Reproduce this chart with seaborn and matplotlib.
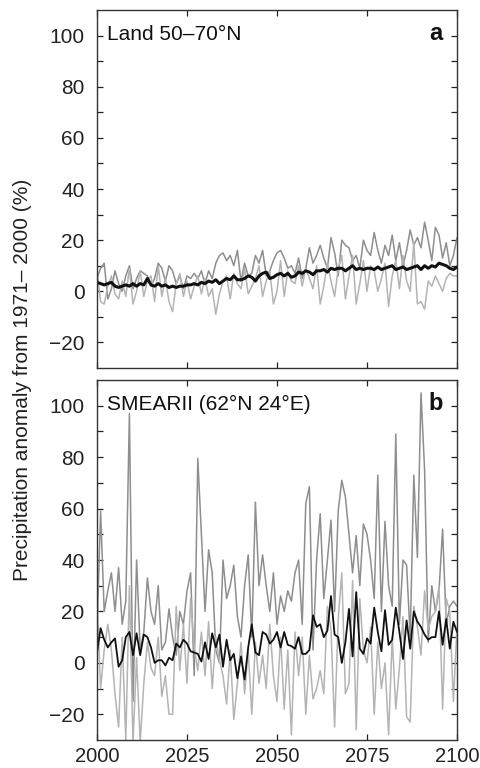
import numpy as np
import pandas as pd
import matplotlib
matplotlib.use("Agg")
import matplotlib.pyplot as plt
import seaborn as sns

years = list(range(2000, 2101))

# Panel a: Land 50-70N
a_mean = [3.5, 3, 2.5, 3, 3.5, 2, 1.5, 2, 2.5, 2,
          3, 2, 3, 2.5, 5, 2.5, 2, 3, 2, 2.5,
          1.5, 2, 1.5, 2, 2, 2.5, 2.5, 3, 2.5, 3.5,
          3, 4, 3.5, 4.5, 3, 4, 5, 4.5, 6, 4.5,
          4.5, 5, 6, 5.5, 4, 6, 7, 7.5, 5, 5.5,
          6.5, 7, 6, 7, 5.5, 6, 7.5, 7, 8, 7.5,
          6.5, 8, 8, 8.5, 7.5, 9, 8.5, 9, 9, 8,
          9, 10, 8.5, 9, 8.5, 9, 9, 8.5, 9.5, 8.5,
          9, 9.5, 10, 8.5, 9, 9.5, 8.5, 9, 9.5, 10,
          8.5, 10, 9, 10, 9.5, 11, 10.5, 10, 9, 8.5,
          9.5]
a_high = [5, 9, 11, -3, 1, 8, 3, 0, 6, 10,
          1, 5, 8, 7, 6, 2, 5, 11, 9, 4,
          10, 8, 3, 6, 1, 6, 5, 7, 5, 8,
          3, 8, 5, 11, 14, 15, 12, 14, 10, 16,
          4, 11, 6, 7, 14, 11, 16, 6, 8, 12,
          15, 16, 13, 9, 10, 7, 13, 5, 9, 17,
          11, 14, 18, 13, 9, 21, 15, 6, 20, 18,
          17, 12, 14, 9, 20, 16, 14, 23, 16, 11,
          18, 14, 22, 12, 19, 10, 16, 24, 18, 21,
          17, 27, 20, 12, 25, 22, 13, 19, 10, 14,
          21]
a_low = [8, -4, -5, 2, 6, -1, -3, 4, -2, 9,
         -5, 0, 8, -2, 4, 6, -4, 10, -2, 5,
         -4, -8, 3, 7, -2, 4, -3, 2, 6, -1,
         5, -2, 1, -9, -1, 4, 6, -3, 7, 3,
         1, 9, -1, 2, 5, 10, -2, 4, 8, -5,
         0, 12, -2, 8, 4, 3, 10, 2, 9, 5,
         1, 10, -5, 2, 11, 4, -2, 9, 14, -3,
         6, 14, -5, 3, 12, 0, 10, 8, 0, 5,
         11, -6, 6, 12, 1, 14, 4, 0, 19, -5,
         -4, -7, 4, 2, 6, 3, 0, 5, 7, 6,
         6]

# Panel b: SMEARII (62N 24E)
b_mean = [4, 13.5, 9, 6, 8, 9.5, -1.5, 1, 10, 12,
          3, 11.5, 3, 11, 10, 6, 0, 1, 1, -1,
          2, 1, 7.5, 6, 9, 7.5, 4.5, 4, 3.5, 0.5,
          8, 1.5, 11.5, 6, 11, -1.5, 9, 1, 3.5, -6,
          2.5, -6.5, 6, 15, 4, 3, 12, 11, 7.5, 9,
          12, 6, 12, 7, 6.5, 5.5, 10, 3.5, 3.5, 5,
          18.5, 14, 15, 10, 12.5, 26, 11, 10, 0, 8,
          21, 2.5, 27.5, 5.5, 3.5, 9.5, 7.5, 21.5, 12, 4.5,
          20.5, 7, 9, 21.5, 12, 1.5, 16.5, 5.5, 20, 16,
          14, 11, 9, 10, 10, 20, 7, 17, 5.5, 16,
          12]
b_high = [12, 59, 20, 28, 35, 20, 37, 15, 24, 97,
          -15, 40, 5, 12, 33, 20, 15, 30, 5, 8,
          21, 10, 3, 20, 15, 28, 35, -5, 79.5, 50,
          20, 44, 35, 5, 0, 40, 25, 30, 38, 18,
          10, 30, 42, 10, 62.5, 30, 42, 30, 20, 35,
          15, 26, 20, 28, 24, 35, 40, 15, 62, 68.5,
          5, 40, 58, 25, 40, 55.5, 20, 59, 71, 64.5,
          50, 35, 49.5, 30, 54, 50, 40, 25, 73, 20,
          55, 30, 22, 89, 15, 40, 38, 10, 73, 41,
          105, 75, 8, 30, 20, 28, 52, 15, 22, 24,
          22]
b_low = [25, -10, 5, 15, 5, -12, -25, 10, -30, 30,
         -31, 2, -31, -8, 8, -2, -5, 10, -13, -5,
         -20, -20, 22, -3, 15, -8, 25, 6, -3, 12,
         -5, 16, -10, 10, 1, -5, -16, 5, -22, -8,
         8, -12, 5, -20, 8, -8, 3, -10, 15, -5,
         -15, 10, -18, 5, -28, 12, -5, 10, -20, 3,
         -14, -10, -3, -12, 22, 13, -25, 17, 35, -12,
         -8, 32, -26, 25, 5, 0, 14, -20, 8, -10,
         0, -28, 10, -18, -2, 18, -21, -23, 22, 14,
         3, 28, 13, 18, 20, 30, -18, 25, 20, -15,
         14]

yticks = list(range(-20, 101, 10))
ylabels = [str(t).replace("-", "\u2212") if t % 20 == 0 else "" for t in yticks]
xticks = [2000, 2025, 2050, 2075, 2100]

sns.set_style("ticks")
plt.rcParams["font.family"] = ["Liberation Sans", "DejaVu Sans"]

fig = plt.figure(figsize=(4.81, 7.68), dpi=100)
ax_a = fig.add_axes([97 / 481, 1 - 368 / 768, 360 / 481, 358 / 768])
ax_b = fig.add_axes([97 / 481, 1 - 740 / 768, 360 / 481, 360 / 768])

panels = [
    (ax_a, a_high, a_low, a_mean, "Land 50\u201370\u00b0N", "a", 2.2),
    (ax_b, b_high, b_low, b_mean, "SMEARII (62\u00b0N 24\u00b0E)", "b", 1.3),
]

for ax, hi, lo, mid, title, letter, lw in panels:
    df = pd.DataFrame({"year": years, "hi": hi, "lo": lo, "mid": mid})
    sns.lineplot(data=df, x="year", y="hi", ax=ax, color="#8e8e8e", lw=1.1)
    sns.lineplot(data=df, x="year", y="lo", ax=ax, color="#b4b4b4", lw=1.1)
    sns.lineplot(data=df, x="year", y="mid", ax=ax, color="#111111", lw=lw)
    ax.set_xlim(2000, 2100)
    ax.set_ylim(-30, 110)
    ax.set_yticks(yticks)
    ax.set_yticklabels(ylabels)
    ax.set_xticks(xticks)
    ax.set_xlabel("")
    ax.set_ylabel("")
    ax.tick_params(direction="in", length=4, width=0.9, top=True, right=True,
                   labelsize=15, colors="#222222")
    ax.tick_params(axis="y", pad=9)
    ax.tick_params(axis="x", pad=5, labelsize=14.5)
    for s in ax.spines.values():
        s.set_visible(True)
        s.set_linewidth(1.0)
        s.set_color("#333333")
    ax.text(0.028, 0.932, title, transform=ax.transAxes, fontsize=15,
            ha="left", va="center", color="#111111")
    ax.text(0.96, 0.935, letter, transform=ax.transAxes, fontsize=17,
            fontweight="bold", ha="right", va="center", color="#111111")

ax_a.set_xticklabels([])
ax_b.set_xticklabels([str(x) for x in xticks])

fig.text(0.046, 0.505, "Precipitation anomaly from 1971\u2013 2000 (%)",
         rotation=90, ha="center", va="center", fontsize=15, color="#222222")

fig.savefig("out.png", dpi=100)
